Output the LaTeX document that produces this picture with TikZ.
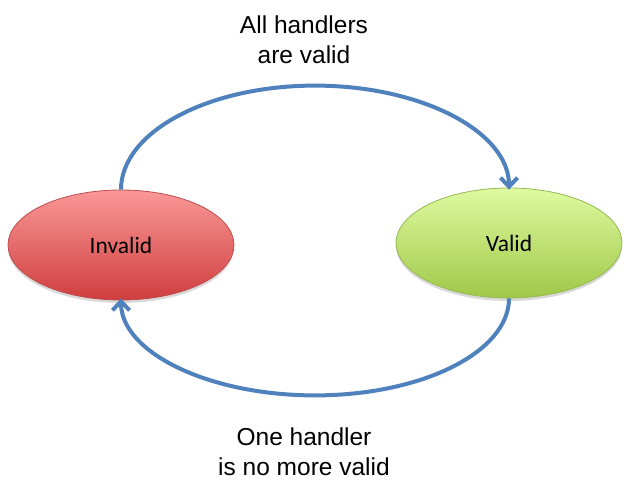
\documentclass[tikz,border=0pt]{standalone}
\usepackage{fontspec}
\setmainfont{Liberation Sans}
\newfontfamily\calfont{Carlito}
\usetikzlibrary{shapes.geometric,arrows.meta}
\definecolor{arrowblue}{RGB}{79,129,189}
\definecolor{redtop}{RGB}{250,152,152}
\definecolor{redbot}{RGB}{208,62,62}
\definecolor{redline}{RGB}{190,75,75}
\definecolor{greentop}{RGB}{222,250,160}
\definecolor{greenbot}{RGB}{160,200,72}
\definecolor{greenline}{RGB}{150,185,85}
\tikzset{
  state/.style={ellipse, minimum width=226pt, minimum height=110pt, inner sep=0pt, line width=0.8pt, font=\calfont\fontsize{23.5}{28}\selectfont},
  shade/.style={ellipse, minimum width=226pt, minimum height=110pt, inner sep=0pt, fill=black, opacity=0.15},
  flow/.style={draw=arrowblue, line width=4pt, -{Straight Barb[length=9pt,width=17pt,line width=4pt]}},
  lbl/.style={align=center, font=\fontsize{24.5}{30}\selectfont}
}
\begin{document}
\begin{tikzpicture}[x=1pt,y=-1pt]
\useasboundingbox (0,0) rectangle (630,490);
\node[shade] (invs) at (121,248) {};
\node[shade] (vals) at (509,246) {};
\node[state, draw=redline, top color=redtop, bottom color=redbot] (inv) at (121,245) {Invalid};
\node[state, draw=greenline, top color=greentop, bottom color=greenbot] (val) at (509,243) {Valid};
\draw[flow] (inv.north) arc[start angle=180, end angle=360, x radius=194, y radius=104];
\draw[flow] (val.south) arc[start angle=0, end angle=180, x radius=194, y radius=97];
\node[lbl] (top) at (304,40) {All handlers\\are valid};
\node[lbl] (bot) at (304,452) {One handler\\is no more valid};
\end{tikzpicture}
\end{document}
